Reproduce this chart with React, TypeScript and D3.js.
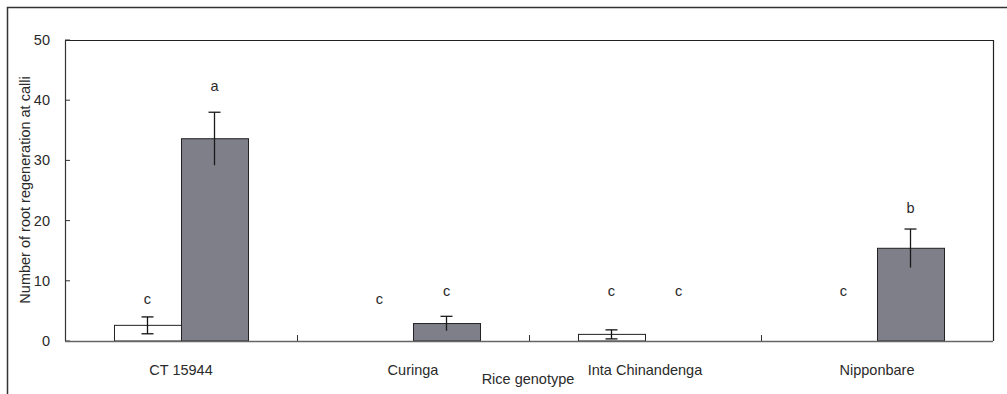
import React from "react";
import * as d3 from "d3";

const genotypes = ["CT 15944", "Curinga", "Inta Chinandenga", "Nipponbare"];
const seriesKeys = ["white", "gray"];
const whiteValues = [2.6, 0, 1.1, 0];
const whiteErrors = [1.4, 0, 0.75, 0];
const grayValues = [33.6, 2.9, 0, 15.4];
const grayErrors = [4.4, 1.2, 0, 3.2];
const whiteLetters = ["c", "c", "c", "c"];
const grayLetters = ["a", "c", "c", "b"];
const whiteLetterY = [6.1, 6.1, 7.5, 7.5];
const grayLetterY = [41.5, 7.5, 7.5, 21.3];
const yTicks = [0, 10, 20, 30, 40, 50];
const yTitle = "Number of root regeneration at calli";
const xTitle = "Rice genotype";

const W = 1007;
const H = 394;
const left = 65;
const right = 993;
const top = 40;
const bottom = 341;
const font = "'Liberation Sans', Arial, sans-serif";
const fs = 14.5;
const textColor = "#2a2a2a";

export default function App() {
  const x = d3.scaleBand<string>().domain(genotypes).range([left, right]).padding(0);
  const inner = d3
    .scaleBand<string>()
    .domain(seriesKeys)
    .range([0, x.bandwidth()])
    .paddingInner(0)
    .paddingOuter(0.731);
  const y = d3.scaleLinear().domain([0, 50]).range([bottom, top]);

  const series = [
    { key: "white", values: whiteValues, errors: whiteErrors, letters: whiteLetters, ly: whiteLetterY, fill: "#ffffff", lowerCap: true },
    { key: "gray", values: grayValues, errors: grayErrors, letters: grayLetters, ly: grayLetterY, fill: "#7e7f88", lowerCap: false },
  ];
  const bw = inner.bandwidth();
  const cap = 6;

  return (
    <svg width={W} height={H} style={{ position: "absolute", left: 0, top: 0, background: "#fff" }}>
      <rect x={0} y={0} width={W} height={H} fill="#fff" />
      {/* outer frame */}
      <rect x={7.5} y={7.5} width={W + 20} height={H + 20} fill="none" stroke="#333" strokeWidth={1.5} />

      {/* plot frame top & right */}
      <line x1={left} x2={right} y1={top + 0.5} y2={top + 0.5} stroke="#222" strokeWidth={1.2} />
      <line x1={right + 0.5} x2={right + 0.5} y1={top} y2={bottom} stroke="#222" strokeWidth={1.2} />

      {/* bars */}
      {series.map((s) =>
        genotypes.map((g, i) => {
          const v = s.values[i];
          const bx = (x(g) as number) + (inner(s.key) as number);
          const cx = bx + bw / 2;
          const e = s.errors[i];
          return (
            <g key={s.key + g}>
              {v > 0 && (
                <rect
                  x={bx + 0.5}
                  y={y(v)}
                  width={bw}
                  height={bottom - y(v)}
                  fill={s.fill}
                  stroke="#222"
                  strokeWidth={1}
                />
              )}
              {e > 0 && (
                <g stroke={s.key === "gray" ? "#1a1a1a" : "#111"} strokeWidth={1.3}>
                  <line x1={cx} x2={cx} y1={y(v + e)} y2={y(v - e)} />
                  <line x1={cx - cap} x2={cx + cap} y1={y(v + e)} y2={y(v + e)} />
                  {s.lowerCap && <line x1={cx - cap} x2={cx + cap} y1={y(v - e)} y2={y(v - e)} />}
                </g>
              )}
              <text
                x={cx}
                y={y(s.ly[i])}
                textAnchor="middle"
                fontFamily={font}
                fontSize={fs}
                fill={textColor}
              >
                {s.letters[i]}
              </text>
            </g>
          );
        })
      )}

      {/* y axis */}
      <line x1={left + 0.5} x2={left + 0.5} y1={top} y2={bottom} stroke="#333" strokeWidth={1.2} />
      {yTicks.map((t) => (
        <g key={t}>
          <line x1={left} x2={left + 5} y1={y(t)} y2={y(t)} stroke="#333" strokeWidth={1} />
          <text
            x={50}
            y={y(t)}
            dy="0.35em"
            textAnchor="end"
            fontFamily={font}
            fontSize={fs}
            fill={textColor}
          >
            {t}
          </text>
        </g>
      ))}

      {/* x axis */}
      <line x1={left} x2={right} y1={bottom + 0.5} y2={bottom + 0.5} stroke="#666" strokeWidth={1.5} />
      {genotypes.slice(1).map((g) => (
        <line key={g} x1={(x(g) as number) + 0.5} x2={(x(g) as number) + 0.5} y1={bottom - 6} y2={bottom} stroke="#333" strokeWidth={1} />
      ))}
      {genotypes.map((g) => (
        <text
          key={g}
          x={(x(g) as number) + x.bandwidth() / 2}
          y={375}
          textAnchor="middle"
          fontFamily={font}
          fontSize={fs}
          fill={textColor}
        >
          {g}
        </text>
      ))}

      <text x={528} y={384} textAnchor="middle" fontFamily={font} fontSize={fs} fill={textColor}>
        {xTitle}
      </text>
      <text
        transform={`translate(30, ${190}) rotate(-90)`}
        textAnchor="middle"
        fontFamily={font}
        fontSize={fs}
        fill={textColor}
      >
        {yTitle}
      </text>
    </svg>
  );
}
